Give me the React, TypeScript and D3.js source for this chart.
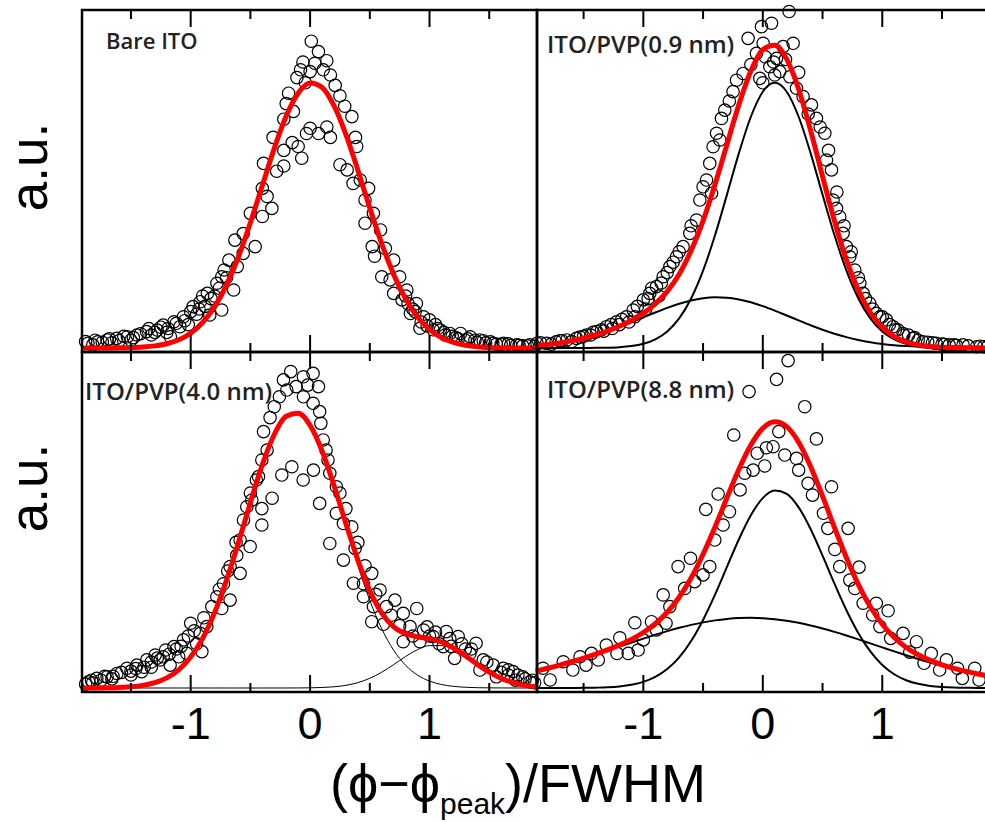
import React, { useRef, useEffect } from "react";
import * as d3 from "d3";

// x grid used for the fitted curves (units of FWHM)
const curveX = [
  -1.9, -1.8, -1.7, -1.6, -1.5, -1.4, -1.3, -1.2, -1.1, -1.0, -0.9, -0.8, -0.7,
  -0.6, -0.5, -0.4, -0.3, -0.2, -0.1, 0, 0.1, 0.2, 0.3, 0.4, 0.5, 0.6, 0.7, 0.8,
  0.9, 1.0, 1.1, 1.2, 1.3, 1.4, 1.5, 1.6, 1.7, 1.8, 1.9,
];

// Bare ITO
const bareFit = [
  0.0001, 0.0002, 0.0003, 0.0007, 0.0017, 0.0038, 0.0081, 0.0165, 0.0315, 0.057,
  0.098, 0.158, 0.242, 0.351, 0.482, 0.625, 0.768, 0.892, 0.98, 1.019, 1.002,
  0.932, 0.821, 0.684, 0.538, 0.401, 0.283, 0.189, 0.119, 0.071, 0.04, 0.0215,
  0.0108, 0.0052, 0.0023, 0.001, 0.0004, 0.0002, 0.0001,
];
const bareDots: [number, number][] = [
  [0.01, 1.18], [0.07, 1.14], [-0.06, 1.1], [0.04, 1.095], [0.14, 1.105], [-0.08, 1.07],
  [0.0, 1.063], [0.11, 1.07], [0.17, 1.05], [-0.11, 1.04], [-0.04, 1.02], [0.21, 1.01],
  [-0.18, 0.98], [0.25, 0.97], [-0.2, 0.94], [0.29, 0.93], [-0.14, 0.91], [0.35, 0.89],
  [-0.22, 0.88], [0.0, 0.845], [0.07, 0.825], [0.14, 0.85], [0.17, 0.81], [-0.03, 0.825],
  [-0.15, 0.79], [-0.1, 0.775], [-0.07, 0.73], [0.38, 0.81], [0.39, 0.775], [-0.31, 0.81],
  [-0.22, 0.76], [-0.22, 0.7], [-0.28, 0.68], [-0.39, 0.71], [0.25, 0.705], [0.31, 0.685],
  [0.42, 0.646], [0.49, 0.614], [0.36, 0.633], [-0.4, 0.614], [-0.36, 0.583], [-0.32, 0.537],
  [-0.4, 0.506], [-0.5, 0.518], [0.46, 0.569], [0.53, 0.518], [0.46, 0.48], [0.59, 0.454],
  [-0.56, 0.44], [-0.63, 0.415], [-0.46, 0.39], [-0.56, 0.364], [0.52, 0.39], [0.54, 0.353],
  [0.63, 0.383], [0.7, 0.338], [-0.68, 0.338], [-0.61, 0.313], [-0.74, 0.274], [-0.78, 0.249],
  [-0.64, 0.223], [0.6, 0.274], [0.67, 0.262], [0.75, 0.274], [0.7, 0.21], [0.81, 0.223],
  [0.77, 0.185], [-0.86, 0.21], [-0.92, 0.178], [-0.74, 0.146], [-0.84, 0.127], [-0.98, 0.159],
  [0.89, 0.171], [0.95, 0.12], [0.84, 0.133], [0.92, 0.076], [1.0, 0.108], [-1.06, 0.12],
  [-1.14, 0.101], [-1.09, 0.082], [-1.23, 0.088], [-1.28, 0.069], [-1.37, 0.063], [-1.45, 0.05],
  [-1.53, 0.043], [-1.62, 0.037], [-1.7, 0.031], [-1.78, 0.024], [-1.86, 0.018], [-1.17, 0.043],
  [1.09, 0.069], [1.17, 0.056], [1.26, 0.056], [1.34, 0.043], [1.42, 0.031], [1.51, 0.024],
  [1.62, 0.018], [1.73, 0.012], [1.84, 0.012], [-1.33, 0.05], [-1.5, 0.03], [-1.66, 0.02],
  [-1.82, 0.012], [-1.2, 0.06], [-1.02, 0.09], [-0.95, 0.13], [-0.88, 0.16], [-0.8, 0.2],
  [-0.7, 0.27], [1.05, 0.09], [1.13, 0.05], [1.22, 0.04], [1.3, 0.03], [1.38, 0.03],
  [1.47, 0.02], [1.56, 0.015], [1.68, 0.01], [1.78, 0.008], [1.88, 0.006], [0.86, 0.15],
  [0.8, 0.2], [-1.88, 0.025], [-1.8, 0.03], [-1.74, 0.022], [-1.68, 0.035], [-1.6, 0.028],
  [-1.56, 0.045], [-1.48, 0.04], [-1.42, 0.055], [-1.35, 0.075], [-1.3, 0.06], [-1.25, 0.08],
  [-1.19, 0.075], [-1.12, 0.095], [-1.05, 0.105], [-1.0, 0.14], [-0.93, 0.15], [-0.9, 0.2],
  [-0.83, 0.19], [-0.76, 0.23], [-0.72, 0.3], [0.82, 0.17], [0.88, 0.14], [0.93, 0.1],
  [0.98, 0.085], [1.03, 0.07], [1.07, 0.075], [1.12, 0.06], [1.19, 0.045], [1.24, 0.035],
  [1.32, 0.035], [1.4, 0.022], [1.45, 0.028], [1.53, 0.018], [1.6, 0.014], [1.66, 0.016],
  [1.75, 0.01], [1.82, 0.008],
];

// ITO/PVP 0.9 nm
const pvp09Fit = [
  0.0093, 0.0137, 0.0196, 0.0275, 0.0375, 0.05, 0.0651, 0.0834, 0.1058, 0.1336,
  0.17, 0.218, 0.284, 0.374, 0.489, 0.6285, 0.783, 0.936, 1.065, 1.147, 1.164,
  1.111, 0.995, 0.837, 0.66, 0.4885, 0.339, 0.2217, 0.1365, 0.0796, 0.0441,
  0.0235, 0.0121, 0.0061, 0.003, 0.0016, 0.0008, 0.0005, 0.0002,
];
const pvp09Narrow = [
  0, 0, 0, 0.0001, 0.0002, 0.0005, 0.0012, 0.0031, 0.0074, 0.0162, 0.0333,
  0.0638, 0.114, 0.1906, 0.2975, 0.4336, 0.5899, 0.7496, 0.8894, 0.9857, 1.02,
  0.9857, 0.8894, 0.7496, 0.5899, 0.4336, 0.2975, 0.1906, 0.114, 0.0638, 0.0333,
  0.0162, 0.0074, 0.0031, 0.0012, 0.0005, 0.0002, 0.0001, 0,
];
const pvp09Broad = [
  0.0093, 0.0137, 0.0196, 0.0274, 0.0373, 0.0495, 0.0639, 0.0803, 0.0984, 0.1174,
  0.1365, 0.1545, 0.1704, 0.183, 0.1913, 0.1949, 0.1934, 0.1868, 0.1759, 0.1612,
  0.1439, 0.1251, 0.106, 0.0874, 0.0702, 0.0549, 0.0418, 0.0311, 0.0225, 0.0158,
  0.0108, 0.0073, 0.0047, 0.003, 0.0018, 0.0011, 0.0006, 0.0004, 0.0002,
];
const pvp09Dots: [number, number][] = [
  [0.22, 1.294], [0.073, 1.249], [-0.011, 1.236], [-0.123, 1.191], [0.254, 1.172], [0.003, 1.172],
  [0.17, 1.159], [-0.053, 1.133], [0.115, 1.114], [-0.025, 1.037], [0.059, 1.082], [0.142, 1.063],
  [-0.165, 1.056], [-0.22, 1.03], [0.226, 1.043], [0.282, 0.999], [0.337, 0.967], [-0.249, 0.986],
  [0.407, 0.935], [-0.318, 0.915], [-0.346, 0.883], [0.449, 0.883], [0.519, 0.826], [-0.387, 0.826],
  [-0.416, 0.774], [0.575, 0.685], [0.533, 0.723], [-0.444, 0.71], [-0.471, 0.646], [-0.429, 0.595],
  [-0.527, 0.569], [0.588, 0.569], [0.617, 0.537], [0.644, 0.505], [0.672, 0.441], [-0.555, 0.492],
  [-0.611, 0.441], [-0.667, 0.39], [0.7, 0.39], [0.728, 0.351], [-0.722, 0.351], [-0.778, 0.313],
  [0.77, 0.3], [-0.834, 0.274], [-0.89, 0.236], [0.812, 0.249], [0.84, 0.21], [-0.946, 0.21],
  [-1.0, 0.185], [0.895, 0.172], [0.951, 0.133], [-1.085, 0.146], [-1.14, 0.12], [1.035, 0.108],
  [1.09, 0.082], [-1.224, 0.101], [-1.308, 0.082], [-1.39, 0.063], [-1.475, 0.05], [-1.56, 0.037],
  [-1.64, 0.031], [-1.73, 0.024], [-1.81, 0.018], [-1.89, 0.018], [1.174, 0.056], [1.258, 0.037],
  [1.34, 0.024], [1.45, 0.018], [1.56, 0.012], [1.676, 0.012], [1.79, 0.005], [0.02, 1.12],
  [0.09, 1.1], [0.19, 1.11], [-0.1, 1.09], [0.1, 1.05], [0.0, 1.02], [0.3, 1.06], [-0.28, 0.95],
  [0.38, 0.9], [-0.36, 0.8], [0.48, 0.85], [-0.5, 0.62], [0.55, 0.76], [-0.6, 0.47], [-0.7, 0.37],
  [-0.8, 0.29], [0.62, 0.6], [0.68, 0.47], [0.74, 0.37], [0.8, 0.27], [-0.93, 0.23], [-1.05, 0.16],
  [-1.18, 0.11], [-1.27, 0.09], [-1.35, 0.07], [-1.5, 0.045], [-1.68, 0.028], [1.0, 0.12],
  [1.13, 0.07], [1.22, 0.05], [1.3, 0.03], [1.5, 0.015], [1.62, 0.01], [1.85, 0.005],
  [-1.86, 0.02], [-1.77, 0.015], [-1.7, 0.028], [-1.6, 0.025], [-1.53, 0.042], [-1.44, 0.05],
  [-1.42, 0.06], [-1.33, 0.065], [-1.26, 0.075], [-1.2, 0.09], [-1.12, 0.1], [-1.07, 0.12],
  [-0.98, 0.15], [-0.96, 0.19], [-0.87, 0.2], [-0.85, 0.25], [-0.75, 0.33], [0.86, 0.19],
  [0.92, 0.15], [0.98, 0.12], [1.06, 0.09], [1.11, 0.07], [1.18, 0.05], [1.27, 0.04],
  [1.38, 0.022], [1.42, 0.02], [1.52, 0.014], [1.6, 0.012], [1.72, 0.008], [1.82, 0.007],
  [1.88, 0.004],
];

// ITO/PVP 4.0 nm
const pvp40Fit = [
  0.0001, 0.0003, 0.0009, 0.0021, 0.0047, 0.0101, 0.0204, 0.0389, 0.07, 0.119,
  0.191, 0.29, 0.4145, 0.5596, 0.713, 0.859, 0.975, 1.045, 1.057, 1.01, 0.912,
  0.779, 0.632, 0.492, 0.374, 0.288, 0.235, 0.209, 0.197, 0.19, 0.177, 0.154,
  0.124, 0.091, 0.061, 0.037, 0.021, 0.01, 0.005,
];
const pvp40Main = [
  0.0001, 0.0003, 0.0009, 0.0021, 0.0047, 0.0101, 0.0204, 0.0389, 0.07, 0.119,
  0.191, 0.29, 0.4145, 0.5596, 0.713, 0.859, 0.975, 1.045, 1.057, 1.0095, 0.91,
  0.774, 0.6216, 0.471, 0.337, 0.2276, 0.145, 0.0873, 0.0496, 0.0266, 0.0135,
  0.0064, 0.0029, 0.0012, 0.0005, 0.0002, 0.0001, 0, 0,
];
const pvp40Shoulder = [
  0, 0, 0, 0, 0, 0, 0, 0, 0, 0, 0, 0, 0, 0, 0, 0, 0, 0.0001, 0.0002, 0.0007,
  0.0019, 0.0047, 0.0103, 0.0206, 0.0372, 0.0608, 0.0902, 0.1213, 0.1477, 0.163,
  0.163, 0.1477, 0.1213, 0.0902, 0.0608, 0.0372, 0.0206, 0.0103, 0.0047,
];
const pvp40Dots: [number, number][] = [
  [-0.162, 1.217], [-0.223, 1.185], [-0.056, 1.197], [0.025, 1.21], [0.07, 1.159], [-0.117, 1.159],
  [-0.02, 1.165], [-0.195, 1.146], [-0.257, 1.12], [-0.056, 1.12], [0.025, 1.095], [-0.3, 1.082],
  [0.08, 1.063], [-0.335, 1.04], [0.09, 1.018], [-0.39, 0.986], [0.11, 0.954], [-0.36, 0.915],
  [-0.404, 0.877], [0.134, 0.915], [0.15, 0.877], [-0.153, 0.851], [-0.237, 0.819], [-0.058, 0.8],
  [0.028, 0.838], [0.165, 0.826], [-0.432, 0.813], [0.22, 0.774], [-0.318, 0.73], [0.08, 0.71],
  [-0.488, 0.723], [-0.53, 0.697], [-0.404, 0.69], [0.22, 0.672], [0.279, 0.633], [0.349, 0.62],
  [-0.404, 0.627], [-0.558, 0.646], [-0.586, 0.569], [-0.502, 0.544], [0.165, 0.556], [0.377, 0.537],
  [0.279, 0.492], [-0.614, 0.51], [-0.67, 0.467], [-0.586, 0.441], [0.363, 0.403], [0.447, 0.401],
  [0.516, 0.441], [0.586, 0.377], [-0.725, 0.401], [-0.67, 0.338], [-0.781, 0.351], [-0.823, 0.313],
  [-0.74, 0.306], [0.447, 0.351], [0.53, 0.313], [0.64, 0.313], [0.71, 0.338], [0.516, 0.255],
  [0.614, 0.245], [0.893, 0.306], [0.78, 0.287], [0.837, 0.236], [0.95, 0.223], [0.78, 0.178],
  [0.92, 0.178], [1.03, 0.198], [1.14, 0.217], [1.24, 0.198], [1.39, 0.172], [1.115, 0.159],
  [1.21, 0.114], [1.338, 0.133], [1.45, 0.108], [1.533, 0.088], [1.422, 0.069], [1.617, 0.076],
  [1.7, 0.063], [1.56, 0.043], [1.78, 0.043], [1.84, 0.024], [-0.865, 0.236], [-0.92, 0.21],
  [-1.0, 0.249], [-0.906, 0.14], [-1.06, 0.185], [-1.14, 0.159], [-1.21, 0.146], [-1.297, 0.127],
  [-1.367, 0.108], [-1.45, 0.088], [-1.534, 0.076], [-1.618, 0.056], [-1.7, 0.043], [-1.786, 0.037],
  [-1.855, 0.024], [-1.032, 0.133], [-1.255, 0.108], [-1.41, 0.063], [-1.172, 0.088], [-0.95, 0.17],
  [-1.1, 0.12], [-1.33, 0.08], [-1.5, 0.05], [-1.66, 0.035], [-1.82, 0.02], [0.68, 0.28],
  [0.75, 0.24], [0.86, 0.2], [1.0, 0.2], [1.08, 0.17], [1.18, 0.16], [1.3, 0.15], [1.48, 0.1],
  [1.66, 0.05], [1.88, 0.02], [-0.45, 0.8], [-0.5, 0.75], [-0.62, 0.56], [-0.69, 0.45],
  [-0.76, 0.38], [0.25, 0.75], [0.3, 0.69], [0.4, 0.56], [0.46, 0.47], [0.55, 0.36],
  [-1.88, 0.015], [-1.83, 0.03], [-1.75, 0.03], [-1.72, 0.045], [-1.65, 0.045], [-1.58, 0.06],
  [-1.5, 0.065], [-1.46, 0.075], [-1.39, 0.08], [-1.33, 0.1], [-1.28, 0.115], [-1.23, 0.12],
  [-1.18, 0.13], [-1.12, 0.15], [-1.08, 0.16], [-1.02, 0.2], [-0.97, 0.22], [-0.89, 0.27],
  [1.6, 0.06], [1.66, 0.07], [1.74, 0.05], [1.8, 0.035], [1.86, 0.03], [1.72, 0.03],
  [1.35, 0.15], [1.27, 0.17], [1.17, 0.19], [1.05, 0.215], [0.98, 0.235],
];

// ITO/PVP 8.8 nm
const pvp88Fit = [
  0.0652, 0.0761, 0.0881, 0.101, 0.1151, 0.1303, 0.1469, 0.1655, 0.1871, 0.2135,
  0.2472, 0.2913, 0.3492, 0.4233, 0.5142, 0.6192, 0.7317, 0.8412, 0.9345, 0.9988,
  1.024, 1.0053, 0.9453, 0.8521, 0.7381, 0.6171, 0.5009, 0.3979, 0.3124, 0.2451,
  0.194, 0.156, 0.1278, 0.1063, 0.0894, 0.0756, 0.0639, 0.0538, 0.0451,
];
const pvp88Narrow = [
  0, 0, 0.0001, 0.0002, 0.0005, 0.0013, 0.0028, 0.0061, 0.0123, 0.0235, 0.0425,
  0.0727, 0.1178, 0.1806, 0.2618, 0.3591, 0.466, 0.5722, 0.6645, 0.7303, 0.7592,
  0.7466, 0.6947, 0.6115, 0.5092, 0.4012, 0.2991, 0.2109, 0.1407, 0.0888, 0.053,
  0.0299, 0.016, 0.0081, 0.0039, 0.0018, 0.0008, 0.0003, 0.0001,
];
const pvp88Broad = [
  0.0652, 0.0761, 0.088, 0.1008, 0.1146, 0.129, 0.1441, 0.1594, 0.1748, 0.19,
  0.2047, 0.2186, 0.2314, 0.2427, 0.2524, 0.2601, 0.2657, 0.269, 0.27, 0.2685,
  0.2648, 0.2587, 0.2506, 0.2406, 0.2289, 0.2159, 0.2018, 0.187, 0.1717, 0.1563,
  0.141, 0.1261, 0.1118, 0.0982, 0.0855, 0.0738, 0.0631, 0.0535, 0.045,
];
const pvp88Dots: [number, number][] = [
  [0.212, 1.259], [0.115, 1.187], [-0.115, 1.14], [0.351, 1.082], [-0.243, 0.973], [0.449, 0.958],
  [0.134, 0.986], [0.086, 0.928], [0.03, 0.924], [-0.047, 0.903], [0.184, 0.896], [0.282, 0.883],
  [0.016, 0.854], [-0.081, 0.838], [-0.151, 0.826], [0.3, 0.838], [0.379, 0.787], [0.575, 0.774],
  [-0.19, 0.762], [-0.374, 0.746], [0.416, 0.742], [-0.477, 0.687], [-0.279, 0.678], [0.508, 0.672],
  [-0.332, 0.627], [0.544, 0.614], [0.714, 0.614], [-0.402, 0.569], [0.603, 0.533], [-0.605, 0.499],
  [-0.444, 0.467], [-0.709, 0.467], [0.644, 0.467], [0.806, 0.465], [-0.5, 0.435], [0.728, 0.415],
  [-0.57, 0.409], [-0.654, 0.383], [-0.834, 0.358], [0.77, 0.383], [0.84, 0.326], [0.95, 0.326],
  [-0.778, 0.313], [1.049, 0.297], [0.92, 0.281], [-1.071, 0.251], [-0.932, 0.255], [-0.81, 0.249],
  [-0.89, 0.223], [0.98, 0.236], [1.174, 0.21], [1.07, 0.191], [-1.0, 0.185], [-1.197, 0.193],
  [-1.043, 0.146], [-1.126, 0.133], [1.286, 0.178], [1.23, 0.138], [1.41, 0.133], [1.35, 0.095],
  [1.537, 0.108], [1.48, 0.069], [1.63, 0.076], [1.774, 0.076], [1.67, 0.037], [1.81, 0.031],
  [-1.31, 0.165], [-1.22, 0.133], [-1.434, 0.133], [-1.377, 0.108], [-1.53, 0.12], [-1.48, 0.088],
  [-1.67, 0.101], [-1.59, 0.069], [-1.84, 0.076], [-1.78, 0.031],
];

const panelLabels = ["Bare ITO", "ITO/PVP(0.9 nm)", "ITO/PVP(4.0 nm)", "ITO/PVP(8.8 nm)"];
const majorTicks = [-1, 0, 1];
const minorTicks = [-1.5, -0.5, 0.5, 1.5];
const tickLabels = ["-1", "0", "1"];

const panels = [
  { label: panelLabels[0], fit: bareFit, parts: [] as number[][], dots: bareDots, partWidth: 2 },
  { label: panelLabels[1], fit: pvp09Fit, parts: [pvp09Narrow, pvp09Broad], dots: pvp09Dots, partWidth: 2 },
  { label: panelLabels[2], fit: pvp40Fit, parts: [pvp40Main, pvp40Shoulder], dots: pvp40Dots, partWidth: 1 },
  { label: panelLabels[3], fit: pvp88Fit, parts: [pvp88Narrow, pvp88Broad], dots: pvp88Dots, partWidth: 2 },
];

// frame geometry of the 2x2 grid
const layout = [
  { left: 82, right: 537, top: 10, bottom: 352, domain: [-1.91, 1.9], labelX: 106, labelY: 49, labelSize: 22 },
  { left: 537, right: 991, top: 10, bottom: 352, domain: [-1.89, 1.91], labelX: 547, labelY: 53, labelSize: 24 },
  { left: 82, right: 537, top: 352, bottom: 692, domain: [-1.91, 1.9], labelX: 85, labelY: 400, labelSize: 24 },
  { left: 537, right: 991, top: 352, bottom: 692, domain: [-1.89, 1.91], labelX: 547, labelY: 398, labelSize: 24 },
];

const App = () => {
  const svgRef = useRef<SVGSVGElement>(null);

  useEffect(() => {
    const svg = d3.select(svgRef.current);
    svg.selectAll("*").remove();

    svg.append("rect").attr("width", 985).attr("height", 822).attr("fill", "#fff");

    panels.forEach((p, k) => {
      const L = layout[k];
      const x = d3.scaleLinear().domain(L.domain).range([L.left, L.right]);
      const y = d3.scaleLinear().domain([0, 1.3]).range([L.bottom - 4, L.bottom - 342]);
      const g = svg.append("g");

      // data points
      g.append("g")
        .selectAll("circle")
        .data(p.dots)
        .join("circle")
        .attr("cx", (d) => x(d[0]))
        .attr("cy", (d) => y(d[1]))
        .attr("r", 6.2)
        .attr("fill", "none")
        .attr("stroke", "#000")
        .attr("stroke-width", 1.2);

      const line = d3
        .line<number>()
        .x((_, i) => x(curveX[i]))
        .y((d) => y(d))
        .curve(d3.curveMonotoneX);

      // fit components
      p.parts.forEach((part) => {
        g.append("path")
          .attr("d", line(part))
          .attr("fill", "none")
          .attr("stroke", "#000")
          .attr("stroke-width", p.partWidth);
      });

      // total fit
      g.append("path")
        .attr("d", line(p.fit))
        .attr("fill", "none")
        .attr("stroke", "#ff0000")
        .attr("stroke-width", 5)
        .attr("stroke-linejoin", "round");

      // frame
      g.append("rect")
        .attr("x", L.left)
        .attr("y", L.top)
        .attr("width", L.right - L.left)
        .attr("height", L.bottom - L.top)
        .attr("fill", "none")
        .attr("stroke", "#000")
        .attr("stroke-width", 2.5);

      // ticks on top and bottom edges, pointing inward
      const ticks = [
        ...majorTicks.map((v) => ({ v, len: 17 })),
        ...minorTicks.map((v) => ({ v, len: 9 })),
      ];
      ticks.forEach((t) => {
        g.append("line")
          .attr("x1", x(t.v)).attr("x2", x(t.v))
          .attr("y1", L.top).attr("y2", L.top + t.len)
          .attr("stroke", "#000").attr("stroke-width", 2);
        g.append("line")
          .attr("x1", x(t.v)).attr("x2", x(t.v))
          .attr("y1", L.bottom).attr("y2", L.bottom - t.len)
          .attr("stroke", "#000").attr("stroke-width", 2);
      });

      // panel label
      g.append("text")
        .attr("x", L.labelX)
        .attr("y", L.labelY)
        .attr("font-family", "'Open Sans', sans-serif")
        .attr("font-weight", 600)
        .attr("font-size", L.labelSize)
        .attr("fill", "#222")
        .text(p.label);

      // tick labels under the bottom row
      if (k >= 2) {
        g.selectAll("text.tick")
          .data(majorTicks)
          .join("text")
          .attr("class", "tick")
          .attr("x", (d) => x(d))
          .attr("y", 739)
          .attr("text-anchor", "middle")
          .attr("font-family", "'Liberation Sans', Arial, sans-serif")
          .attr("font-size", 45)
          .text((_, i) => tickLabels[i]);
      }
    });

    // y labels
    [167, 488].forEach((cy) => {
      svg.append("text")
        .attr("transform", `translate(47,${cy}) rotate(-90)`)
        .attr("text-anchor", "middle")
        .attr("font-family", "'Liberation Sans', Arial, sans-serif")
        .attr("font-size", 53)
        .text("a.u.");
    });

    // x title
    const title = svg.append("text")
      .attr("x", 330)
      .attr("y", 802)
      .attr("font-family", "'Liberation Sans', Arial, sans-serif")
      .attr("font-size", 54);
    title.append("tspan").text("(ϕ−ϕ");
    title.append("tspan").attr("font-size", 30).attr("dy", 12).text("peak");
    title.append("tspan").attr("dy", -12).text(")/FWHM");
  }, []);

  return (
    <div style={{ position: "absolute", left: 0, top: 0 }}>
      <svg ref={svgRef} width={985} height={822} style={{ display: "block" }} />
    </div>
  );
};

export default App;
